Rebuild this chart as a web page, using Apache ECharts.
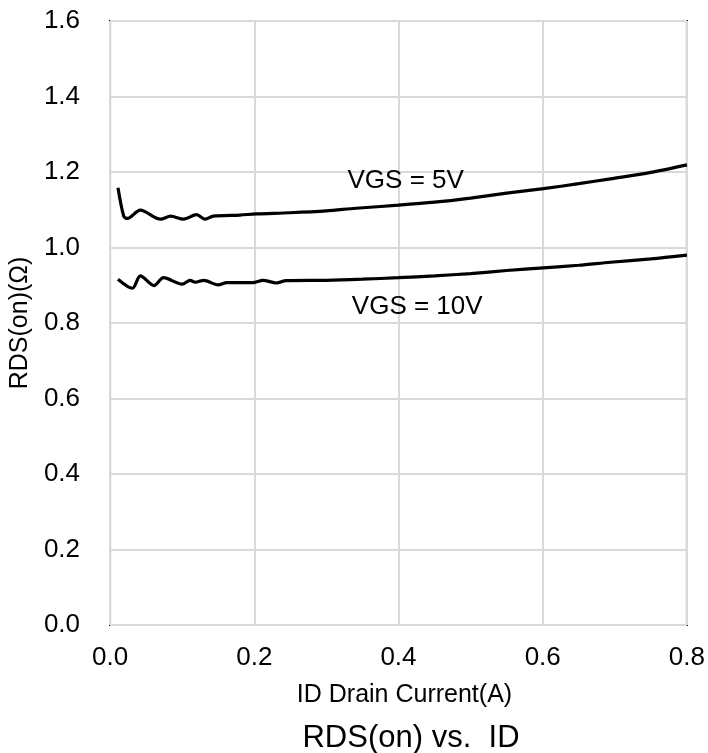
<!DOCTYPE html>
<html>
<head>
<meta charset="utf-8">
<script src="https://cdn.jsdelivr.net/npm/echarts@6/dist/echarts.min.js"></script>
<style>
html,body{margin:0;padding:0;background:#fff;}
#chart{width:708px;height:753px;}
</style>
</head>
<body>
<div id="chart"></div>
<script>
// Data
var id5   = [0.011, 0.019, 0.024, 0.042, 0.070, 0.084, 0.102, 0.120, 0.132, 0.143, 0.180, 0.203, 0.249, 0.300, 0.341, 0.400, 0.450, 0.500, 0.550, 0.601, 0.650, 0.694, 0.750, 0.800];
var rds5  = [1.158, 1.083, 1.077, 1.099, 1.075, 1.083, 1.075, 1.087, 1.075, 1.083, 1.086, 1.089, 1.092, 1.097, 1.104, 1.112, 1.120, 1.131, 1.144, 1.156, 1.169, 1.182, 1.199, 1.219];
var id10  = [0.011, 0.031, 0.042, 0.061, 0.074, 0.100, 0.111, 0.118, 0.130, 0.150, 0.162, 0.198, 0.212, 0.231, 0.244, 0.300, 0.350, 0.400, 0.450, 0.500, 0.550, 0.601, 0.650, 0.694, 0.750, 0.800];
var rds10 = [0.916, 0.892, 0.925, 0.899, 0.920, 0.903, 0.913, 0.908, 0.913, 0.901, 0.907, 0.907, 0.913, 0.906, 0.912, 0.913, 0.916, 0.920, 0.925, 0.931, 0.939, 0.946, 0.953, 0.961, 0.970, 0.980];

var labelText = ['VGS = 5V', 'VGS = 10V'];
var labelX = [0.410, 0.426];
var labelY = [1.176, 0.842];

var xTicks = [0.0, 0.2, 0.4, 0.6, 0.8];
var yTicks = [0.0, 0.2, 0.4, 0.6, 0.8, 1.0, 1.2, 1.4, 1.6];

var xName = 'ID Drain Current(A)';
var yName = 'RDS(on)(Ω)';
var titleText = 'RDS(on) vs.  ID';

function pairs(xs, ys){ return xs.map(function(x,i){ return [x, ys[i]]; }); }

var FONT = '"Liberation Sans", Arial, sans-serif';

var chart = echarts.init(document.getElementById('chart'), null, {renderer:'canvas'});
chart.setOption({
  animation: false,
  backgroundColor: '#fff',
  title: {
    text: titleText,
    left: 406,
    textAlign: 'center',
    top: 718,
    textStyle: {fontFamily: FONT, fontSize: 31, fontWeight: 'normal', color: '#000'}
  },
  grid: {
    left: 109, right: 18, top: 21, bottom: 128,
    show: true, borderColor: '#000', borderWidth: 2, backgroundColor: 'transparent'
  },
  xAxis: {
    type: 'value',
    min: xTicks[0], max: xTicks[xTicks.length-1], interval: 0.2,
    name: xName, nameLocation: 'middle', nameGap: 58,
    nameTextStyle: {fontFamily: FONT, fontSize: 25, color: '#000', padding: [0,0,0,12]},
    axisLine: {show: false}, axisTick: {show: false},
    axisLabel: {fontFamily: FONT, fontSize: 26, color: '#000', margin: 20,
      formatter: function(v){ return v.toFixed(1); }},
    splitLine: {show: true, lineStyle: {color: '#d9d9d9', width: 2}}
  },
  yAxis: {
    type: 'value',
    min: yTicks[0], max: yTicks[yTicks.length-1], interval: 0.2,
    name: yName, nameLocation: 'middle', nameGap: 70, nameRotate: 90,
    nameTextStyle: {fontFamily: FONT, fontSize: 25, color: '#000'},
    axisLine: {show: false}, axisTick: {show: false},
    axisLabel: {fontFamily: FONT, fontSize: 26, color: '#000', margin: 30,
      formatter: function(v){ return v.toFixed(1); }},
    splitLine: {show: true, lineStyle: {color: '#d9d9d9', width: 2}}
  },
  series: [
    {
      type: 'line', data: pairs(id5, rds5), showSymbol: false, smooth: 0.3,
      lineStyle: {color: '#000', width: 3.2}, z: 5,
      markPoint: {
        symbol: 'circle', symbolSize: 0, silent: true,
        data: [{coord: [labelX[0], labelY[0]], value: labelText[0]}],
        label: {show: true, position: 'inside', formatter: function(p){ return p.value; },
          fontFamily: FONT, fontSize: 26, color: '#000'}
      }
    },
    {
      type: 'line', data: pairs(id10, rds10), showSymbol: false, smooth: 0.3,
      lineStyle: {color: '#000', width: 3.2}, z: 5,
      markPoint: {
        symbol: 'circle', symbolSize: 0, silent: true,
        data: [{coord: [labelX[1], labelY[1]], value: labelText[1]}],
        label: {show: true, position: 'inside', formatter: function(p){ return p.value; },
          fontFamily: FONT, fontSize: 26, color: '#000'}
      }
    }
  ]
});
</script>
</body>
</html>
